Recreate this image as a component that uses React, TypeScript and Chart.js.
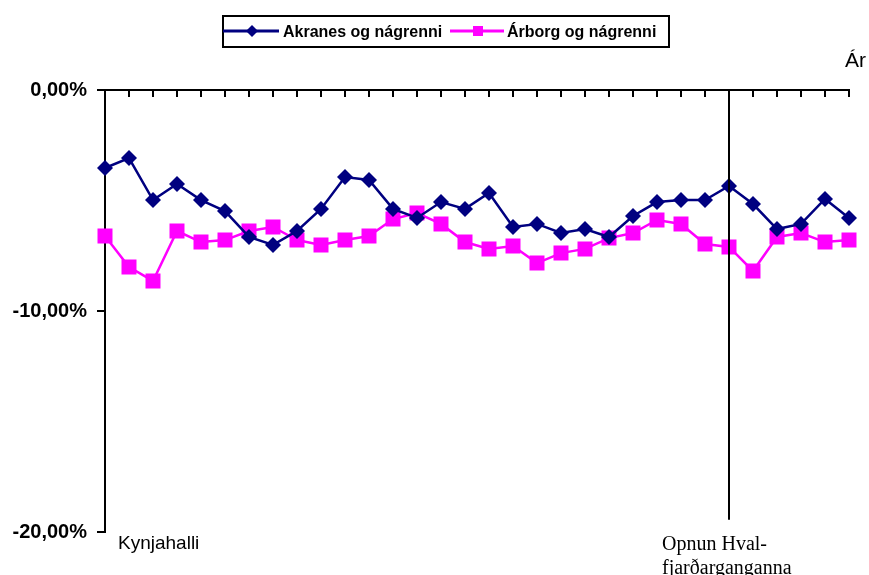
import React, { useEffect, useRef } from "react";
import { Chart, registerables } from "chart.js";

Chart.register(...registerables);

const categories = [
  "1", "2", "3", "4", "5", "6", "7", "8", "9", "10", "11", "12", "13", "14", "15", "16",
  "17", "18", "19", "20", "21", "22", "23", "24", "25", "26", "27", "28", "29", "30", "31", "32",
];

const akranes = [
  -3.53, -3.08, -4.98, -4.25, -4.98, -5.48, -6.65, -7.01, -6.38, -5.38, -3.94, -4.07, -5.38, -5.79, -5.07, -5.38,
  -4.66, -6.2, -6.06, -6.47, -6.29, -6.65, -5.7, -5.07, -4.98, -4.98, -4.34, -5.16, -6.29, -6.06, -4.93, -5.79,
];

const arborg = [
  -6.61, -8.01, -8.64, -6.38, -6.88, -6.79, -6.38, -6.2, -6.79, -7.01, -6.79, -6.61, -5.84, -5.57, -6.06, -6.88,
  -7.19, -7.06, -7.83, -7.38, -7.19, -6.7, -6.47, -5.88, -6.06, -6.97, -7.1, -8.19, -6.65, -6.47, -6.88, -6.79,
];

const seriesNames = ["Akranes og nágrenni", "Árborg og nágrenni"];
const yTicks = [0, -10, -20];
const eventIndex = 26;
const eventLineEnd = -19.45;

const NAVY = "#000080";
const MAGENTA = "#FF00FF";

const axisPlugin = {
  id: "excelAxes",
  afterDatasetsDraw(chart: any) {
    const { ctx, chartArea, scales } = chart;
    const x = scales.x;
    const y = scales.y;
    ctx.save();
    ctx.strokeStyle = "#000";
    ctx.lineWidth = 2;
    ctx.beginPath();
    ctx.moveTo(chartArea.left, chartArea.top);
    ctx.lineTo(chartArea.right + 1, chartArea.top);
    ctx.stroke();
    for (let i = 0; i < categories.length; i++) {
      const px = Math.round(x.getPixelForValue(i));
      ctx.beginPath();
      ctx.moveTo(px, chartArea.top);
      ctx.lineTo(px, chartArea.top + 7);
      ctx.stroke();
    }
    const ex = Math.round(x.getPixelForValue(eventIndex));
    ctx.beginPath();
    ctx.moveTo(ex, chartArea.top);
    ctx.lineTo(ex, y.getPixelForValue(eventLineEnd));
    ctx.stroke();
    ctx.restore();
  },
};

export default function App() {
  const ref = useRef<HTMLCanvasElement | null>(null);

  useEffect(() => {
    if (!ref.current) return;
    const chart = new Chart(ref.current, {
      type: "line",
      data: {
        labels: categories,
        datasets: [
          {
            label: seriesNames[0],
            data: akranes,
            borderColor: NAVY,
            backgroundColor: NAVY,
            borderWidth: 2.5,
            pointStyle: "rectRot",
            pointRadius: 8,
            pointBorderWidth: 0,
            pointBackgroundColor: NAVY,
            tension: 0,
          },
          {
            label: seriesNames[1],
            data: arborg,
            borderColor: MAGENTA,
            backgroundColor: MAGENTA,
            borderWidth: 2.5,
            pointStyle: "rect",
            pointRadius: 10.6,
            pointBorderWidth: 0,
            pointBackgroundColor: MAGENTA,
            tension: 0,
          },
        ],
      },
      options: {
        responsive: false,
        animation: false,
        layout: { padding: { left: 0, right: 20, top: 90, bottom: 43 } },
        plugins: {
          legend: { display: false },
          title: { display: false },
          tooltip: { enabled: false },
        },
        scales: {
          x: {
            type: "category",
            position: "top",
            offset: false,
            grid: { display: false },
            border: { display: false },
            ticks: { display: false },
            afterFit(scale: any) {
              scale.height = 0;
            },
          },
          y: {
            min: -20,
            max: 0,
            afterBuildTicks(scale: any) {
              scale.ticks = yTicks.map((v) => ({ value: v }));
            },
            grid: {
              drawOnChartArea: false,
              drawTicks: true,
              tickLength: 8,
              color: "#000",
              lineWidth: 2,
            },
            border: { display: true, color: "#000", width: 2 },
            ticks: {
              padding: 10,
              color: "#000",
              font: { family: "'Liberation Sans', Arial, sans-serif", size: 20, weight: "bold" },
              callback: (v: any) => Number(v).toFixed(2).replace("-0.00", "0.00").replace(".", ",") + "%",
            },
            afterFit(scale: any) {
              scale.width = 105;
            },
          },
        },
      },
      plugins: [axisPlugin],
    } as any);
    return () => chart.destroy();
  }, []);

  const sans = "'Liberation Sans', Arial, sans-serif";
  const serif = "'Liberation Serif', 'Times New Roman', serif";

  return (
    <div style={{ position: "absolute", left: 0, top: 0, width: 869, height: 575, overflow: "hidden", background: "#fff" }}>
      <canvas ref={ref} width={869} height={575} style={{ position: "absolute", left: 0, top: 0, display: "block" }} />
      <div
        style={{
          position: "absolute",
          left: 222,
          top: 15,
          width: 448,
          height: 33,
          border: "2px solid #000",
          boxSizing: "border-box",
        }}
      />
      <svg style={{ position: "absolute", left: 223, top: 24 }} width={56} height={14}>
        <line x1={0} y1={7} x2={56} y2={7} stroke={NAVY} strokeWidth={3} />
        <polygon points="29,1 35,7 29,13 23,7" fill={NAVY} />
      </svg>
      <div style={{ position: "absolute", left: 283, top: 23, font: `bold 16px ${sans}`, lineHeight: "18px", whiteSpace: "nowrap" }}>
        {seriesNames[0]}
      </div>
      <svg style={{ position: "absolute", left: 450, top: 24 }} width={54} height={14}>
        <line x1={0} y1={7} x2={54} y2={7} stroke={MAGENTA} strokeWidth={3} />
        <rect x={23} y={2} width={10} height={10} fill={MAGENTA} />
      </svg>
      <div style={{ position: "absolute", left: 507, top: 23, font: `bold 16px ${sans}`, lineHeight: "18px", whiteSpace: "nowrap" }}>
        {seriesNames[1]}
      </div>
      <div style={{ position: "absolute", left: 845, top: 48, font: `21px ${sans}`, whiteSpace: "nowrap" }}>Ár</div>
      <div style={{ position: "absolute", left: 118, top: 532, font: `19px ${sans}`, whiteSpace: "nowrap" }}>Kynjahalli</div>
      <div style={{ position: "absolute", left: 662, top: 531, font: `20px ${serif}`, lineHeight: "24px", whiteSpace: "nowrap" }}>
        Opnun Hval-
        <br />
        fjarðarganganna
      </div>
    </div>
  );
}
